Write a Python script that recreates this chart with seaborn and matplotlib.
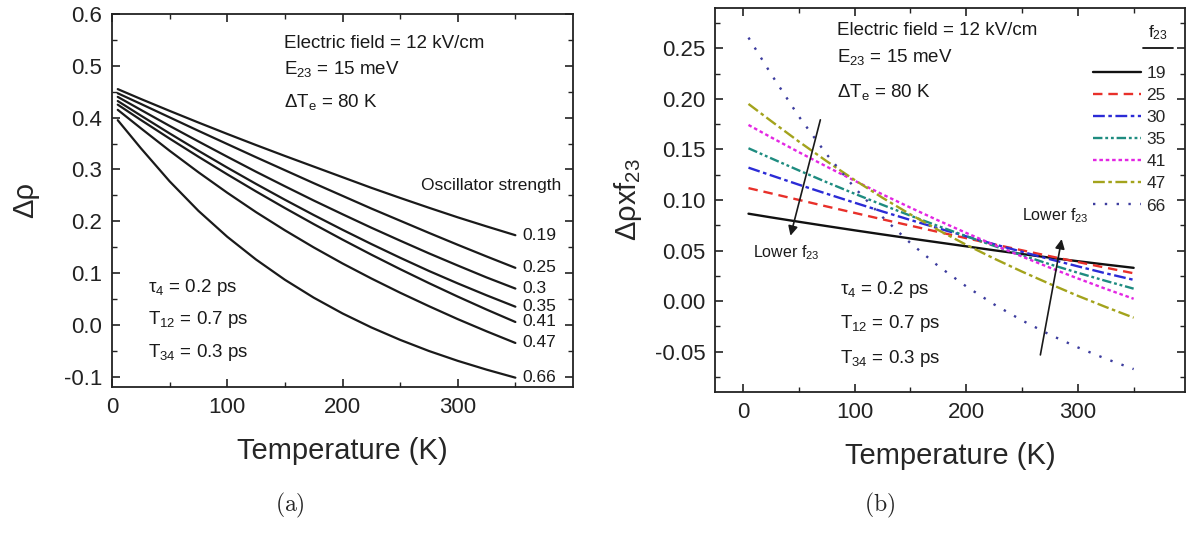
import numpy as np
import pandas as pd
import matplotlib
matplotlib.use("Agg")
import matplotlib.pyplot as plt
from matplotlib.ticker import MultipleLocator, FixedLocator, FormatStrFormatter
from matplotlib.lines import Line2D
import seaborn as sns

# ---------------- data ----------------
temperature = [5, 25, 50, 75, 100, 125, 150, 175, 200, 225, 250, 275, 300, 325, 350]
osc_strength = [0.19, 0.25, 0.3, 0.35, 0.41, 0.47, 0.66]
f23_labels = [19, 25, 30, 35, 41, 47, 66]
drho_019 = [0.455, 0.436, 0.413, 0.3905, 0.3685, 0.347, 0.326, 0.3055, 0.285, 0.2645,
            0.245, 0.226, 0.2075, 0.190, 0.173]
drho_025 = [0.447, 0.4265, 0.4005, 0.3745, 0.349, 0.3235, 0.2985, 0.2735, 0.249, 0.2245,
            0.201, 0.1775, 0.1545, 0.132, 0.110]
drho_030 = [0.440, 0.415, 0.384, 0.354, 0.3245, 0.2955, 0.2675, 0.240, 0.2135, 0.1875,
            0.1625, 0.138, 0.1145, 0.0915, 0.070]
drho_035 = [0.432, 0.404, 0.3695, 0.336, 0.3035, 0.272, 0.2415, 0.212, 0.1835, 0.156,
            0.1295, 0.104, 0.080, 0.057, 0.035]
drho_041 = [0.425, 0.3955, 0.3595, 0.3245, 0.2905, 0.2575, 0.2255, 0.1945, 0.1645, 0.1355,
            0.1075, 0.0805, 0.0545, 0.0295, 0.0055]
drho_047 = [0.415, 0.3795, 0.336, 0.2945, 0.255, 0.2175, 0.1825, 0.1495, 0.1185, 0.0895,
            0.062, 0.036, 0.011, -0.0125, -0.035]
drho_066 = [0.395, 0.341, 0.277, 0.220, 0.170, 0.126, 0.087, 0.0525, 0.022, -0.005,
            -0.029, -0.0505, -0.0695, -0.0865, -0.102]
curves = [drho_019, drho_025, drho_030, drho_035, drho_041, drho_047, drho_066]

rows = []
for f, lab, vals in zip(osc_strength, f23_labels, curves):
    for t, v in zip(temperature, vals):
        rows.append(dict(T=t, f=lab, osc=f, drho=v, prod=v * f))
df = pd.DataFrame(rows)

# ---------------- style ----------------
sns.set_theme(style="ticks")
plt.rcParams["font.family"] = ["Liberation Sans", "DejaVu Sans"]
plt.rcParams["mathtext.fontset"] = "custom"
plt.rcParams["mathtext.rm"] = "Liberation Sans"
plt.rcParams["mathtext.it"] = "Liberation Sans:italic"
plt.rcParams["mathtext.bf"] = "Liberation Sans:bold"
plt.rcParams["axes.unicode_minus"] = False
plt.rcParams["axes.linewidth"] = 1.3
for ax_ in ("xtick", "ytick"):
    plt.rcParams[f"{ax_}.direction"] = "in"
    plt.rcParams[f"{ax_}.major.size"] = 6
    plt.rcParams[f"{ax_}.minor.size"] = 3.5
    plt.rcParams[f"{ax_}.major.width"] = 1.2
    plt.rcParams[f"{ax_}.minor.width"] = 1.0
    plt.rcParams[f"{ax_}.labelsize"] = 16
    plt.rcParams[f"{ax_}.color"] = "#222222"

W, H = 1190, 538
fig = plt.figure(figsize=(W / 100, H / 100), dpi=100)
axL = fig.add_axes([112 / W, 1 - 387 / H, 461 / W, 373 / H])
axR = fig.add_axes([715 / W, 1 - 392 / H, 470 / W, 384 / H])

for ax in (axL, axR):
    ax.tick_params(which="both", top=True, right=True, labeltop=False, labelright=False)
    ax.tick_params(axis="both", which="major", pad=7)
    for s in ax.spines.values():
        s.set_visible(True)
        s.set_color("#222222")

# ---------------- left panel ----------------
sns.lineplot(data=df, x="T", y="drho", units="f", estimator=None, color="#1a1a1a",
             lw=1.6, ax=axL, legend=False)
axL.set_xlim(0, 400)
axL.set_ylim(-0.12, 0.6)
axL.xaxis.set_major_locator(FixedLocator([0, 100, 200, 300]))
axL.xaxis.set_minor_locator(FixedLocator([50, 150, 250, 350]))
axL.yaxis.set_major_locator(MultipleLocator(0.1))
axL.yaxis.set_minor_locator(MultipleLocator(0.05))
axL.yaxis.set_major_formatter(FormatStrFormatter("%.1f"))
axL.set_xlabel("Temperature (K)", fontsize=21, labelpad=14)
axL.set_ylabel("Δρ", fontsize=21, labelpad=18)

ann = dict(fontsize=13.5, color="#1a1a1a")
axL.text(149, 0.535, "Electric field = 12 kV/cm", va="baseline", **ann)
axL.text(149, 0.485, r"E$_\mathregular{23}$ = 15 meV", va="baseline", **ann)
axL.text(149, 0.420, r"ΔT$_\mathregular{e}$ = 80 K", va="baseline", **ann)
axL.text(31, 0.064, r"τ$_\mathregular{4}$ = 0.2 ps", va="baseline", **ann)
axL.text(31, 0.002, r"T$_\mathregular{12}$ = 0.7 ps", va="baseline", **ann)
axL.text(31, -0.062, r"T$_\mathregular{34}$ = 0.3 ps", va="baseline", **ann)
axL.text(390, 0.26, "Oscillator strength", ha="right", va="baseline", fontsize=12.5,
         color="#1a1a1a")
for f, vals in zip(osc_strength, curves):
    axL.text(temperature[-1] + 6, vals[-1], f"{f:g}", ha="left", va="center",
             fontsize=12.5, color="#1a1a1a")

# ---------------- right panel ----------------
palette = {19: "#111111", 25: "#e8302a", 30: "#2b2bd6", 35: "#1e8c80",
           41: "#e326e3", 47: "#a3a31c", 66: "#3c3c9e"}
dashes = {19: "", 25: (4, 2.5), 30: (5, 1.5, 1.5, 1.5), 35: (4, 1.2, 1.2, 1.2, 1.2, 1.2),
          41: (1.5, 1.2), 47: (5, 1.5, 1.5, 1.5), 66: (1, 4)}
sns.lineplot(data=df, x="T", y="prod", hue="f", style="f", palette=palette,
             dashes=dashes, hue_order=f23_labels, style_order=f23_labels,
             lw=1.7, ax=axR, estimator=None)
axR.set_xlim(-25, 396)
axR.set_ylim(-0.09, 0.29)
axR.xaxis.set_major_locator(FixedLocator([0, 100, 200, 300]))
axR.xaxis.set_minor_locator(FixedLocator([50, 150, 250, 350]))
axR.yaxis.set_major_locator(MultipleLocator(0.05))
axR.yaxis.set_minor_locator(MultipleLocator(0.025))
axR.yaxis.set_major_formatter(FormatStrFormatter("%.2f"))
axR.set_xlabel("Temperature (K)", fontsize=21, labelpad=14)
axR.set_ylabel(r"Δρxf$_\mathregular{23}$", fontsize=21, labelpad=8)

handles, labels = axR.get_legend_handles_labels()
leg = axR.legend(handles, labels, loc="upper right",
                 bbox_to_anchor=(0.978, 0.872), frameon=False, fontsize=12.5,
                 handlelength=2.8, handletextpad=0.3,
                 labelspacing=0.4, borderpad=0)
axR.text(0.942, 0.935, r"f$_\mathregular{23}$", transform=axR.transAxes,
         ha="center", va="center", fontsize=12.5, color="#1a1a1a")
axR.add_line(Line2D([0.911, 0.975], [0.897, 0.897], transform=axR.transAxes,
                    color="#111111", lw=1.3))

axR.text(84, 0.263, "Electric field = 12 kV/cm", va="baseline", **ann)
axR.text(84, 0.2365, r"E$_\mathregular{23}$ = 15 meV", va="baseline", **ann)
axR.text(84, 0.202, r"ΔT$_\mathregular{e}$ = 80 K", va="baseline", **ann)
axR.text(87, 0.007, r"τ$_\mathregular{4}$ = 0.2 ps", va="baseline", **ann)
axR.text(87, -0.027, r"T$_\mathregular{12}$ = 0.7 ps", va="baseline", **ann)
axR.text(87, -0.061, r"T$_\mathregular{34}$ = 0.3 ps", va="baseline", **ann)
axR.text(9, 0.048, r"Lower f$_\mathregular{23}$", va="center", fontsize=11.5,
         color="#1a1a1a")
axR.text(250, 0.085, r"Lower f$_\mathregular{23}$", va="center", fontsize=11.5,
         color="#1a1a1a")
arr = dict(arrowstyle="-|>", color="#1a1a1a", lw=1.2, mutation_scale=14)
axR.annotate("", xy=(42, 0.062), xytext=(70, 0.182), arrowprops=arr)
axR.annotate("", xy=(286, 0.064), xytext=(266, -0.056), arrowprops=arr)

# ---------------- captions ----------------
fig.text(290 / W, 1 - 505 / H, r"$\mathrm{(a)}$", ha="center", va="center",
         fontsize=17, math_fontfamily="cm")
fig.text(880 / W, 1 - 505 / H, r"$\mathrm{(b)}$", ha="center", va="center",
         fontsize=17, math_fontfamily="cm")

fig.savefig("out.png", dpi=100)
